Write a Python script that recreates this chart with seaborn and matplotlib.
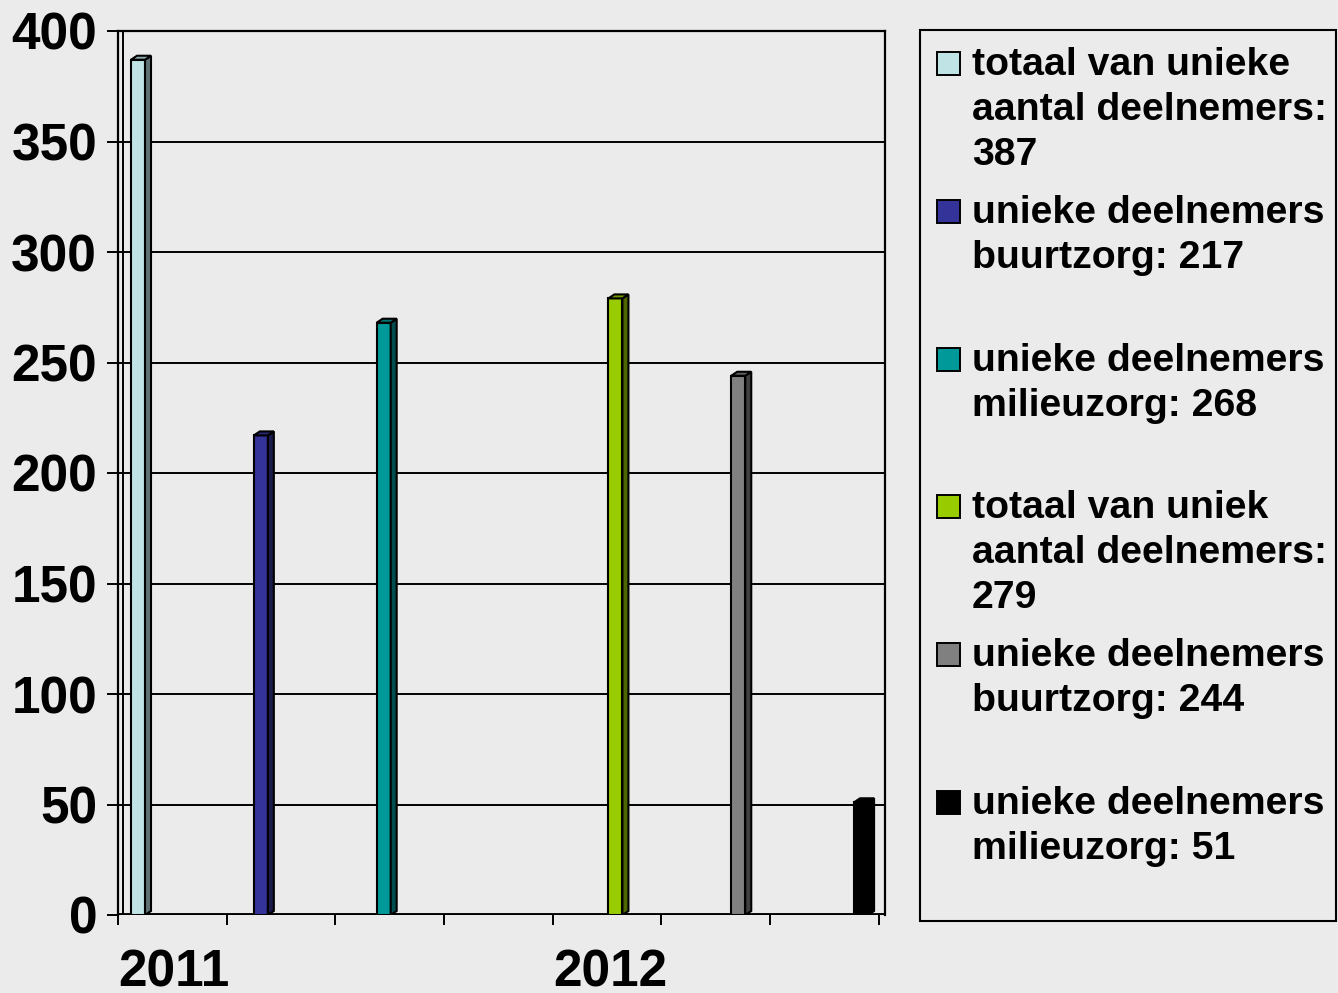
import numpy as np
import pandas as pd
import matplotlib.pyplot as plt
import seaborn as sns
from matplotlib.patches import Polygon, Rectangle

# data
years = ["2011", "2012"]
series_per_year = 3
values = [387, 217, 268, 279, 244, 51]
legend_labels = [
    "totaal van unieke\naantal deelnemers:\n387",
    "unieke deelnemers\nbuurtzorg: 217",
    "unieke deelnemers\nmilieuzorg: 268",
    "totaal van uniek\naantal deelnemers:\n279",
    "unieke deelnemers\nbuurtzorg: 244",
    "unieke deelnemers\nmilieuzorg: 51",
]
colors = ["#c0e4e6", "#333399", "#009999", "#99cc00", "#808080", "#000000"]
y_ticks = list(range(0, 401, 50))

W, H = 1338, 993
BG = "#ebebeb"

# layout of the bars on the (odd) excel axis
group_start = [0.184, 4.576]
step = 1.13
bar_w = 0.129
positions = [group_start[g] + k * step for g in range(len(years)) for k in range(series_per_year)]

df = pd.DataFrame({"pos": positions, "value": values, "series": legend_labels})
palette = dict(zip(legend_labels, colors))

plt.rcParams["font.family"] = ["Liberation Sans", "DejaVu Sans"]
plt.rcParams["font.weight"] = "bold"

fig = plt.figure(figsize=(W / 100, H / 100), dpi=100, facecolor=BG)
ax = fig.add_axes([118 / W, 1 - 915 / H, (885 - 118) / W, (915 - 31) / H])
ax.set_facecolor(BG)

sns.barplot(data=df, x="pos", y="value", hue="series", hue_order=legend_labels,
            palette=palette, native_scale=True, dodge=False, legend=False,
            saturation=1, edgecolor="black", linewidth=1.5, width=0.114, ax=ax)

px_x = 108.7
px_y = 884 / 400
dx = 6 / px_x
dy = 4 / px_y

# fake 3d: side and top faces for every bar
for p in list(ax.patches):
    h = p.get_height()
    if h <= 0:
        continue
    cx = p.get_x() + p.get_width() / 2
    p.set_x(cx - bar_w / 2)
    p.set_width(bar_w)
    x0 = p.get_x()
    x1 = x0 + bar_w
    fc = np.array(p.get_facecolor()[:3])
    side = Polygon([(x1, 0), (x1 + dx, dy), (x1 + dx, h + dy), (x1, h)],
                   closed=True, facecolor=fc * 0.5, edgecolor="black", lw=1.5, zorder=p.get_zorder())
    top = Polygon([(x0, h), (x0 + dx, h + dy), (x1 + dx, h + dy), (x1, h)],
                  closed=True, facecolor=fc * 0.75, edgecolor="black", lw=1.5, zorder=p.get_zorder())
    ax.add_patch(side)
    ax.add_patch(top)

ax.set_xlim(0, (885 - 118) / px_x)
ax.set_ylim(0, 400)

# gridlines and back wall
for yv in y_ticks[1:]:
    ax.axhline(yv, color="black", lw=1.4, zorder=0.5)
ax.axvline(5 / px_x, color="black", lw=1.4, zorder=0.5)
ax.axhline(0, color="black", lw=3.5, zorder=0.6)

for s in ax.spines.values():
    s.set_color("black")
    s.set_linewidth(1.6)
ax.spines["bottom"].set_visible(False)

ax.set_yticks(y_ticks)
ax.set_yticklabels([str(v) for v in y_ticks], fontsize=37, fontweight="bold")
ax.set_xticks(range(8))
xlabels = [""] * 8
for g, yr in enumerate(years):
    xlabels[g * 4] = yr
ax.set_xticklabels(xlabels, fontsize=37, fontweight="bold", ha="left")
ax.tick_params(axis="y", direction="out", length=8, width=1.4, pad=7, colors="black")
ax.tick_params(axis="x", direction="out", length=7, width=1.4, pad=17, colors="black")
ax.set_xlabel("")
ax.set_ylabel("")

# legend drawn by hand so entries are spaced like the original
fig.add_artist(Rectangle((920 / W, 1 - 921 / H), (1336 - 920) / W, (921 - 30) / H,
                         transform=fig.transFigure, facecolor=BG, edgecolor="black", lw=1.5))
for i, (lab, col) in enumerate(zip(legend_labels, colors)):
    base = 75 + 147.8 * i
    fig.add_artist(Rectangle((937 / W, 1 - base / H), 23 / W, 23 / H,
                             transform=fig.transFigure, facecolor=col, edgecolor="black", lw=1.4))
    for j, line in enumerate(lab.split("\n")):
        fig.text(972 / W, 1 - (base + 45 * j) / H, line, fontsize=28.3, fontweight="bold",
                 va="baseline", ha="left")

plt.savefig("out.png", dpi=100, facecolor=BG)
